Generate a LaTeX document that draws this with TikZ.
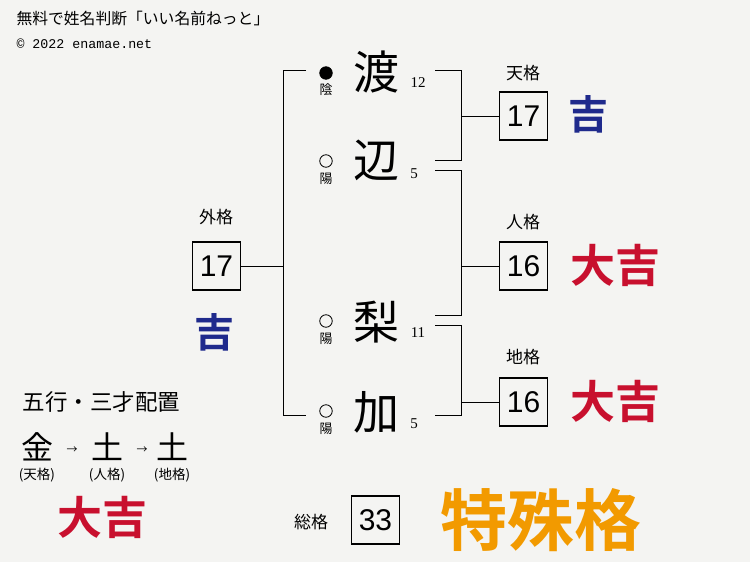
\documentclass[tikz,border=0pt]{standalone}
\usepackage{fontspec}
\setmainfont{Liberation Serif}
\newfontfamily\jp{Noto Sans CJK JP}
\newfontfamily\jpb{Noto Sans CJK JP Bold}
\newfontfamily\mono{Liberation Mono}
\newfontfamily\sans{Liberation Sans}
\definecolor{paper}{HTML}{F4F4F2}
\definecolor{kichiblue}{HTML}{1F2A8C}
\definecolor{kichired}{HTML}{C8102E}
\definecolor{tokuorange}{HTML}{F29A00}
\newcommand{\fs}[1]{\fontsize{#1}{#1}\selectfont}

\begin{document}
\begin{tikzpicture}[x=1pt,y=-1pt,
    kanji/.style={font=\jp\fs{46}},
    yinyang/.style={circle,draw,line width=0.8pt,inner sep=0pt,minimum size=12.5pt},
    inyo/.style={font=\jp\fs{13}},
    kaku/.style={font=\jp\fs{17}},
    kakubox/.style={draw,line width=1.3pt,minimum size=48pt,inner sep=0pt,font=\sans\fs{30}},
    stroke/.style={font=\fs{15}},
    brk/.style={line width=1pt},
    luck/.style={font=\jpb\fs{#1}}]
  % paper
  \fill[paper] (0,0) rectangle (750,562);
  \useasboundingbox (0,0) rectangle (750,562);
  % header
  \node[anchor=west,font=\jp\fs{15.8}] (title) at (13,19) {無料で姓名判断「いい名前ねっと」};
  \node[anchor=west,font=\mono\fs{13.3}] (copy) at (13,44) {© 2022 enamae.net};
  % name characters
  \node[kanji] (c1) at (376,72) {渡};
  \node[kanji] (c2) at (376,160) {辺};
  \node[kanji] (c3) at (376,322) {梨};
  \node[kanji] (c4) at (376,412) {加};
  \node[yinyang,fill=black] (m1) at (326,73) {};
  \node[inyo] (y1) at (326,90) {陰};
  \node[yinyang] (m2) at (326,161) {};
  \node[inyo] (y2) at (326,179) {陽};
  \node[yinyang] (m3) at (326,321) {};
  \node[inyo] (y3) at (326,339) {陽};
  \node[yinyang] (m4) at (326,411) {};
  \node[inyo] (y4) at (326,429) {陽};
  \node[stroke] (s1) at (418,83) {12};
  \node[stroke] (s2) at (414,174) {5};
  \node[stroke] (s3) at (418,333) {11};
  \node[stroke] (s4) at (414,424) {5};
  % brackets
  \draw[brk] (306,70) -- (283,70) -- (283,415) -- (306,415);
  \draw[brk] (435,70) -- (461,70) -- (461,160) -- (435,160);
  \draw[brk] (435,170) -- (461,170) -- (461,315) -- (435,315);
  \draw[brk] (435,325) -- (461,325) -- (461,415) -- (435,415);
  \coordinate (gj) at (283,266);
  \coordinate (tj) at (461,116);
  \coordinate (jj) at (461,266);
  \coordinate (cj) at (461,402);
  % kaku boxes
  \node[kakubox] (ten) at (523.5,116) {17};
  \node[kakubox] (jin) at (523.5,266) {16};
  \node[kakubox] (chi) at (523.5,402) {16};
  \node[kakubox] (gai) at (216.5,266) {17};
  \node[kakubox] (sou) at (375.5,520) {33};
  \node[kaku] (tenl) at (523,73) {天格};
  \node[kaku] (jinl) at (523,222) {人格};
  \node[kaku] (chil) at (523,357) {地格};
  \node[kaku] (gail) at (216,217) {外格};
  \node[kaku] (soul) at (311,522) {総格};
  \draw[brk] (tj) -- (ten.west);
  \draw[brk] (jj) -- (jin.west);
  \draw[brk] (cj) -- (chi.west);
  \draw[brk] (gai.east) -- (gj);
  % fortunes
  \node[luck=40,text=kichiblue] (tenk) at (588,114) {吉};
  \node[luck=45,text=kichired] (jink) at (615,265) {大吉};
  \node[luck=45,text=kichired] (chik) at (615,401) {大吉};
  \node[luck=40,text=kichiblue] (gaik) at (214,332) {吉};
  \node[luck=67,text=tokuorange] (souk) at (541,520) {特殊格};
  % gogyo / sansai
  \node[anchor=west,font=\jp\fs{22.5}] (gogyo) at (19,402) {五行・三才配置};
  \node[font=\jp\fs{32}] (g1) at (37,447) {金};
  \node[font=\jp\fs{32}] (g2) at (107,447) {土};
  \node[font=\jp\fs{32}] (g3) at (172,447) {土};
  \node[font=\jp\fs{11}] (a1) at (72,450) {→};
  \node[font=\jp\fs{11}] (a2) at (142,450) {→};
  \node[font=\jp\fs{13.5}] (g1l) at (37,475) {(天格)};
  \node[font=\jp\fs{13.5}] (g2l) at (107,475) {(人格)};
  \node[font=\jp\fs{13.5}] (g3l) at (172,475) {(地格)};
  \node[luck=45,text=kichired] (sank) at (102,517) {大吉};
\end{tikzpicture}
\end{document}
